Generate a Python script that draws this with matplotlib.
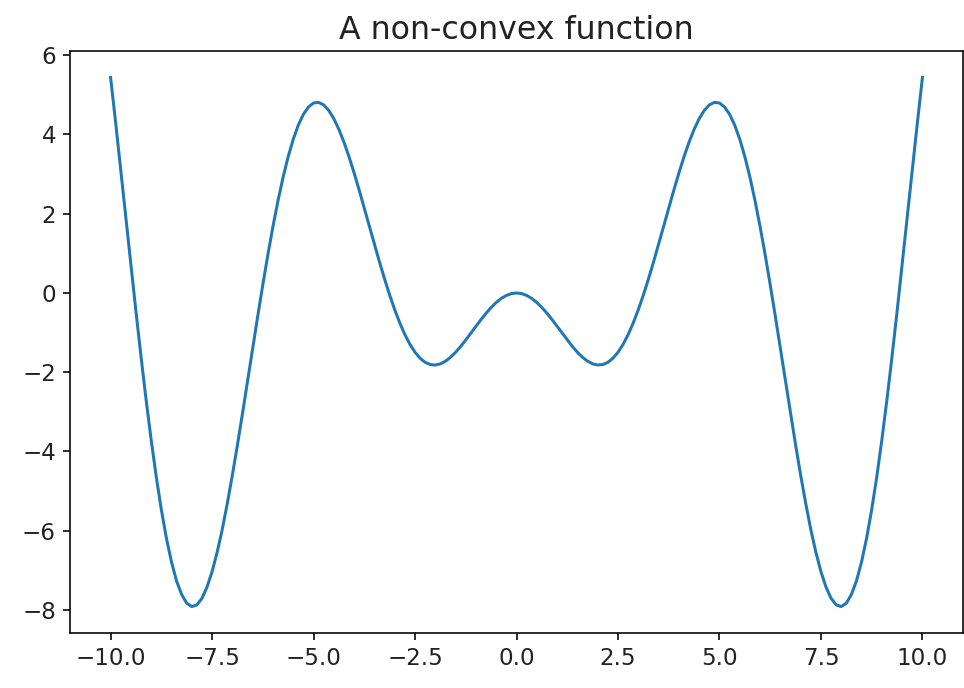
import numpy as np
import matplotlib
matplotlib.use("Agg")
import matplotlib.pyplot as plt

ys = [5.440, 4.298, 3.115, 1.914, 0.714, -0.467, -1.609, -2.695,
      -3.709, -4.638, -5.466, -6.186, -6.787, -7.266, -7.610, -7.829,
      -7.915, -7.873, -7.708, -7.425, -7.035, -6.545, -5.973, -5.314,
      -4.599, -3.835, -3.038, -2.221, -1.398, -0.585, 0.207, 0.965,
      1.677, 2.332, 2.923, 3.440, 3.880, 4.238, 4.509, 4.693,
      4.795, 4.810, 4.747, 4.607, 4.399, 4.128, 3.804, 3.434,
      3.027, 2.594, 2.144, 1.685, 1.228, 0.781, 0.352, -0.052,
      -0.423, -0.757, -1.050, -1.297, -1.496, -1.648, -1.751, -1.807,
      -1.819, -1.789, -1.722, -1.623, -1.496, -1.349, -1.186, -1.015,
      -0.842, -0.672, -0.511, -0.366, -0.240, -0.137, -0.062, -0.016,
      0.0,
      -0.016, -0.062, -0.137, -0.240, -0.366, -0.511, -0.672, -0.842,
      -1.015, -1.186, -1.349, -1.496, -1.623, -1.722, -1.789, -1.819,
      -1.807, -1.751, -1.648, -1.496, -1.297, -1.050, -0.757, -0.423,
      -0.052, 0.352, 0.781, 1.228, 1.685, 2.144, 2.594, 3.027,
      3.434, 3.804, 4.128, 4.399, 4.607, 4.747, 4.810, 4.795,
      4.693, 4.509, 4.238, 3.880, 3.440, 2.923, 2.332, 1.677,
      0.965, 0.207, -0.585, -1.398, -2.221, -3.038, -3.835, -4.599,
      -5.314, -5.973, -6.545, -7.035, -7.425, -7.708, -7.873, -7.915,
      -7.829, -7.610, -7.266, -6.787, -6.186, -5.466, -4.638, -3.709,
      -2.695, -1.609, -0.467, 0.714, 1.914, 3.115, 4.298, 5.440]
xs = np.linspace(-10, 10, len(ys))

plt.rcParams.update({"xtick.labelsize": 11.5, "ytick.labelsize": 11.5,
                     "text.color": "#222222", "xtick.labelcolor": "#222222",
                     "ytick.labelcolor": "#222222"})

fig = plt.figure(figsize=(964 / 144, 688 / 144), dpi=144)
ax = fig.add_axes([0.0726, 0.0799, 0.9264, 0.846])
ax.plot(xs, ys, color="#1f77b4", linewidth=1.5)
ax.set_title("A non-convex function", fontsize=15.8)
fig.savefig("out.png", dpi=144)
